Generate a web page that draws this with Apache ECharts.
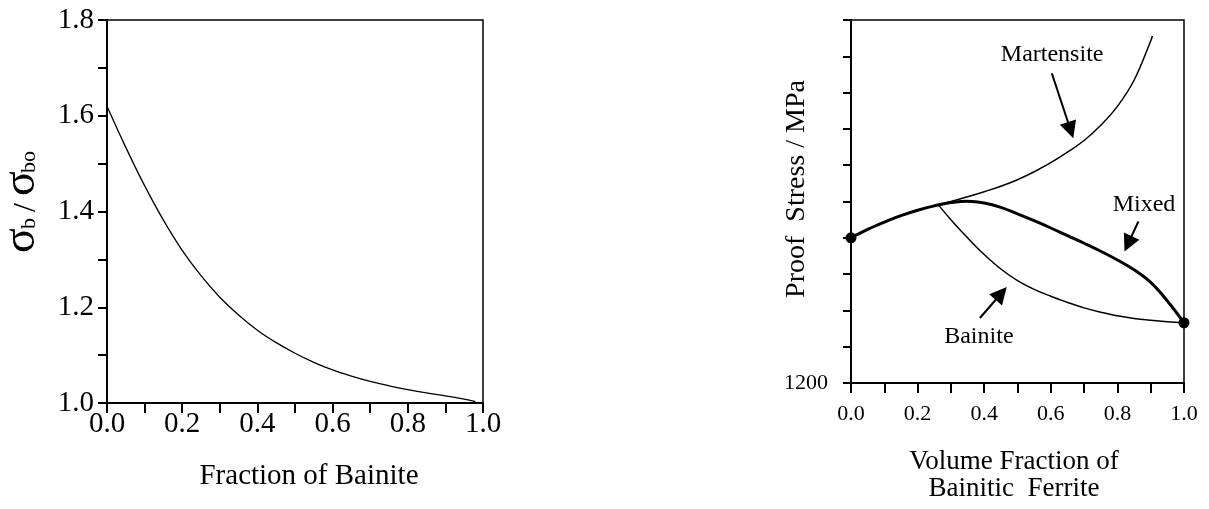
<!DOCTYPE html>
<html>
<head>
<meta charset="utf-8">
<script src="https://cdn.jsdelivr.net/npm/echarts@6/dist/echarts.min.js"></script>
<style>
html,body{margin:0;padding:0;background:#fff;}
#chart{width:1209px;height:509px;}
</style>
</head>
<body>
<div id="chart"></div>
<script>
// ---- Left panel: sigma_b / sigma_bo vs fraction of bainite ----
const leftX = [0, 0.05, 0.1, 0.15, 0.2, 0.25, 0.3, 0.35, 0.4, 0.45, 0.5, 0.55, 0.6, 0.65, 0.7, 0.75, 0.8, 0.85, 0.9, 0.95, 0.98];
const leftY = [1.62, 1.534, 1.454, 1.382, 1.319, 1.266, 1.221, 1.184, 1.152, 1.126, 1.104, 1.085, 1.069, 1.056, 1.045, 1.036, 1.028, 1.021, 1.015, 1.008, 1.003];
const leftXTickLabels = ['0.0', '0.2', '0.4', '0.6', '0.8', '1.0'];
const leftYTickLabels = ['1.0', '1.2', '1.4', '1.6', '1.8'];

// ---- Right panel: proof stress vs volume fraction of bainitic ferrite ----
const mixedX = [0, 0.05, 0.1, 0.15, 0.2, 0.25, 0.3, 0.35, 0.4, 0.45, 0.5, 0.55, 0.6, 0.65, 0.7, 0.75, 0.8, 0.85, 0.9, 0.95, 1.0];
const mixedY = [1400, 1411.5, 1421.5, 1430.5, 1438, 1444, 1448.5, 1450.5, 1448, 1442, 1433, 1423.5, 1413.5, 1403, 1392.5, 1381.5, 1369.5, 1356, 1338.5, 1313, 1283];
const martX = [0.25, 0.3, 0.35, 0.4, 0.45, 0.5, 0.55, 0.6, 0.65, 0.7, 0.75, 0.8, 0.85, 0.9, 0.905];
const martY = [1444, 1450, 1456.5, 1463.5, 1471, 1480, 1491, 1503.5, 1518, 1534, 1555, 1581, 1617, 1671, 1678];
const bainX = [0.263, 0.3, 0.35, 0.4, 0.45, 0.5, 0.55, 0.6, 0.65, 0.7, 0.75, 0.8, 0.85, 0.9, 0.95, 1.0];
const bainY = [1445, 1425, 1400, 1377, 1357, 1341, 1329, 1319.5, 1311, 1303.5, 1297.5, 1292.5, 1289, 1286.5, 1284.5, 1283];
const dotX = [0, 1.0];
const dotY = [1400, 1283];
const rightXTickLabels = ['0.0', '0.2', '0.4', '0.6', '0.8', '1.0'];
const rightYTickLabels = ['1200'];

const annNames = ['Martensite', 'Mixed', 'Bainite'];
const annX = [0.604, 0.880, 0.384];
const annY = [1652, 1445, 1264];
const arrowFromX = [0.603, 0.863, 0.387];
const arrowFromY = [1626.7, 1422.4, 1289.5];
const arrowToX = [0.6595, 0.832, 0.451];
const arrowToY = [1548.3, 1391.6, 1323.3];

const FONT = "'Liberation Serif', 'Times New Roman', serif";
const zip = (a, b) => a.map((v, i) => [v, b[i]]);
const pick = (labels) => (v) => { const s = (+v).toFixed(labels[0].includes('.') ? 1 : 0); return labels.includes(s) ? s : ''; };

const chart = echarts.init(document.getElementById('chart'), null, {renderer: 'canvas'});

const axisCommon = (gi) => ({
  gridIndex: gi,
  type: 'value',
  splitLine: {show: false},
  axisLine: {show: true, onZero: false, lineStyle: {color: '#000', width: 2}},
  axisTick: {show: true, inside: false, length: 10, lineStyle: {color: '#000', width: 2}},
});

const option = {
  animation: false,
  backgroundColor: '#fff',
  grid: [
    {left: 107, top: 20, width: 376, height: 383, show: true, borderColor: '#000', borderWidth: 1.5, backgroundColor: 'transparent'},
    {left: 851, top: 20, width: 333, height: 363, show: true, borderColor: '#000', borderWidth: 1.5, backgroundColor: 'transparent'}
  ],
  xAxis: [
    Object.assign(axisCommon(0), {min: 0, max: 1, interval: 0.1,
      axisLabel: {formatter: pick(leftXTickLabels), fontSize: 29, fontFamily: FONT, color: '#000', margin: 7, showMinLabel: true, showMaxLabel: true}}),
    Object.assign(axisCommon(1), {min: 0, max: 1, interval: 0.1,
      axisLabel: {formatter: pick(rightXTickLabels), fontSize: 22, fontFamily: FONT, color: '#000', margin: 20, showMinLabel: true, showMaxLabel: true}})
  ],
  yAxis: [
    Object.assign(axisCommon(0), {min: 1.0, max: 1.8, interval: 0.1,
      axisTick: {show: true, length: 9, lineStyle: {color: '#000', width: 2}},
      axisLabel: {formatter: pick(leftYTickLabels), fontSize: 29, fontFamily: FONT, color: '#000', margin: 13, showMinLabel: true, showMaxLabel: true}}),
    Object.assign(axisCommon(1), {min: 1200, max: 1700, interval: 50,
      axisTick: {show: true, length: 8, lineStyle: {color: '#000', width: 2}},
      axisLabel: {formatter: pick(rightYTickLabels), fontSize: 22, fontFamily: FONT, color: '#000', margin: 23, showMinLabel: true, showMaxLabel: true}})
  ],
  series: [
    {type: 'line', xAxisIndex: 0, yAxisIndex: 0, data: zip(leftX, leftY), showSymbol: false, smooth: 0.4,
      lineStyle: {color: '#000', width: 1.3}, silent: true},
    {type: 'line', xAxisIndex: 1, yAxisIndex: 1, data: zip(martX, martY), showSymbol: false, smooth: 0.4,
      lineStyle: {color: '#000', width: 1.5}, silent: true},
    {type: 'line', xAxisIndex: 1, yAxisIndex: 1, data: zip(bainX, bainY), showSymbol: false, smooth: 0.4,
      lineStyle: {color: '#000', width: 1.5}, silent: true},
    {type: 'line', xAxisIndex: 1, yAxisIndex: 1, data: zip(mixedX, mixedY), showSymbol: false, smooth: 0.4,
      lineStyle: {color: '#000', width: 3}, silent: true},
    {type: 'scatter', xAxisIndex: 1, yAxisIndex: 1, data: zip(dotX, dotY), symbol: 'circle', symbolSize: 11,
      itemStyle: {color: '#000', opacity: 1}, silent: true},
    {type: 'scatter', xAxisIndex: 1, yAxisIndex: 1, symbolSize: 0, silent: true,
      itemStyle: {opacity: 1},
      data: annNames.map((n, i) => ({name: n, value: [annX[i], annY[i]]})),
      label: {show: true, position: 'inside', formatter: (p) => p.name, fontSize: 24, fontFamily: FONT, color: '#000', opacity: 1, textBorderWidth: 0}},
    {type: 'lines', coordinateSystem: 'cartesian2d', xAxisIndex: 1, yAxisIndex: 1, silent: true,
      symbol: ['none', 'triangle'], symbolSize: [11, 17],
      lineStyle: {color: '#000', width: 2, opacity: 1},
      itemStyle: {color: '#000'},
      data: annNames.map((n, i) => ({coords: [[arrowFromX[i], arrowFromY[i]], [arrowToX[i], arrowToY[i]]]}))}
  ],
  graphic: [
    {type: 'text', x: 309, y: 476, style: {text: 'Fraction of Bainite', font: '29px ' + FONT, fill: '#000', align: 'center', verticalAlign: 'middle'}},
    {type: 'text', x: 1014, y: 475, style: {text: 'Volume Fraction of\nBainitic  Ferrite', font: '27px ' + FONT, lineHeight: 27, fill: '#000', align: 'center', verticalAlign: 'middle'}},
    {type: 'text', x: 797, y: 189, rotation: Math.PI / 2, style: {text: 'Proof  Stress / MPa', font: '28px ' + FONT, fill: '#000', align: 'center', verticalAlign: 'middle'}},
    {type: 'group', x: 37, y: 253, rotation: Math.PI / 2, children: [
      {type: 'text', x: 0, y: -0.3375 * 46, style: {text: 'σ', font: '46px ' + FONT, fill: '#000', align: 'left', verticalAlign: 'middle'}},
      {type: 'text', x: 24, y: -0.3375 * 22, style: {text: 'b', font: '22px ' + FONT, fill: '#000', align: 'left', verticalAlign: 'middle'}},
      {type: 'text', x: 41, y: -0.3375 * 32, style: {text: '/', font: '32px ' + FONT, fill: '#000', align: 'left', verticalAlign: 'middle'}},
      {type: 'text', x: 57, y: -0.3375 * 46, style: {text: 'σ', font: '46px ' + FONT, fill: '#000', align: 'left', verticalAlign: 'middle'}},
      {type: 'text', x: 80, y: -0.3375 * 22, style: {text: 'bo', font: '22px ' + FONT, fill: '#000', align: 'left', verticalAlign: 'middle'}}
    ]}
  ]
};
chart.setOption(option);
</script>
</body>
</html>
